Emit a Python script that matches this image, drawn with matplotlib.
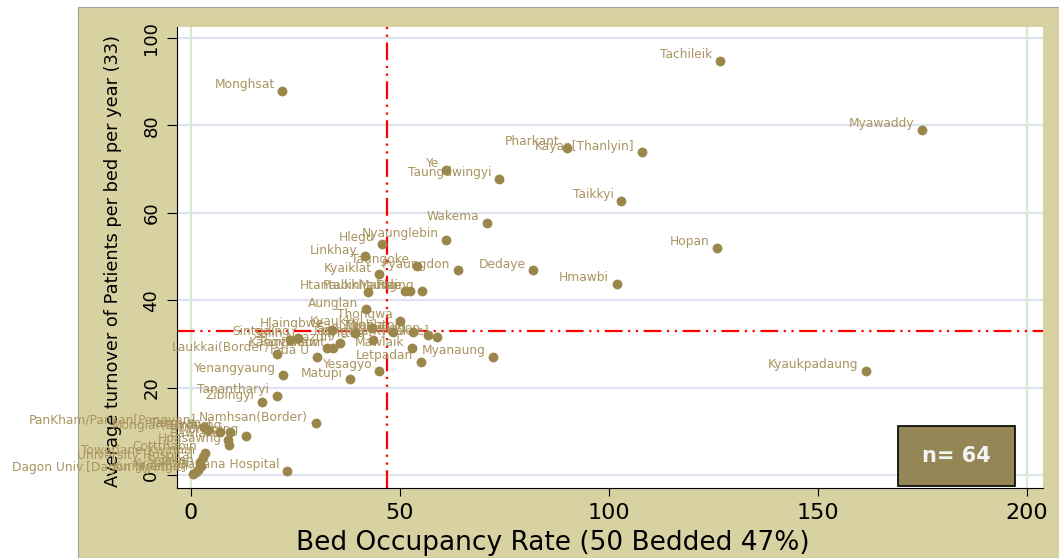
import matplotlib.pyplot as plt
from matplotlib.patches import Rectangle

plt.rcParams['font.family'] = 'DejaVu Sans'

# hospital names, bed occupancy rate (%), turnover of patients per bed per year
names = [
    "Tachileik", "Myawaddy", "Monghsat", "Pharkant", "Kayan[Thanlyin]", "Ye",
    "Taungdwingyi", "Taikkyi", "Wakema", "Nyaunglebin", "Hopan", "Dedaye",
    "Hmawbi", "Pyaungdon", "Taungoke", "Hlegu", "Linkhay", "Kyaiklat",
    "Htantabin", "Paukkhaung", "Pale", "Mahlaing", "Aunglan", "Thongwa",
    "Kyaukpadaung", "Letpadan", "Myanaung", "Mawlaik", "Yesagyo", "Matupi",
    "Yenangyaung", "Tanantharyi", "Zibingyi", "Laukkai(Border)", "Tada U",
    "Namhsan(Border)", "Dagana Hospital",
    "Sintgaing", "Hlaingbwe", "Kyaukkyi", "Pantanaw", "Kangyidaunt", "Ngazun",
    "Sagu", "Myittha", "Thanatpin", "Kyaunggon", "Taungtha[Kyaukse]", "Salin",
    "Minhla",
    "Dagon Univ.[Dagon Myothit]", "University Hospital", "Towerlane-Kwinhin",
    "Cottthabin", "PanKham/Pansan[Pangyan]", "Tangyan", "Monglar(Border)",
    "Pinlaung", "Bawlake", "Hpasawng", "Mongping", "Seikkan", "Kyauktan",
    "Kungyangon",
]
occupancy = [
    126.6, 174.9, 21.8, 89.9, 107.8, 60.9,
    73.7, 102.9, 70.8, 61.0, 125.9, 81.9,
    101.8, 63.8, 54.0, 45.8, 41.6, 45.0,
    42.3, 51.2, 52.4, 55.2, 41.9, 50.0,
    161.5, 54.9, 72.2, 52.8, 45.0, 38.0,
    21.9, 20.5, 16.9, 20.5, 30.1,
    29.8, 22.9,
    25.6, 33.7, 43.2, 32.5, 34.0, 35.6,
    39.2, 43.6, 53.2, 56.8, 58.8, 23.7,
    48.3,
    0.5, 2.2, 2.9,
    3.3, 3.1, 4.1, 6.9,
    9.3, 8.9, 9.2, 13.2, 2.5, 1.6,
    1.2,
]
turnover = [
    94.7, 79.0, 87.9, 74.8, 73.8, 69.8,
    67.7, 62.8, 57.7, 53.8, 51.9, 46.8,
    43.7, 46.8, 47.8, 52.9, 50.0, 45.9,
    41.9, 42.0, 42.0, 42.0, 37.9, 35.3,
    23.8, 25.9, 27.0, 29.0, 23.9, 21.9,
    22.9, 18.1, 16.8, 27.8, 27.1,
    11.8, 1.0,
    31.4, 33.2, 33.6, 29.0, 29.0, 30.1,
    32.4, 30.9, 32.8, 32.0, 31.5, 30.9,
    32.8,
    0.2, 3.0, 4.2,
    5.0, 11.0, 10.3, 9.9,
    9.9, 8.0, 6.9, 8.9, 2.0, 1.2,
    0.6,
]

x_ticks = [0, 50, 100, 150, 200]
y_ticks = [0, 20, 40, 60, 80, 100]
occ_ref = 47
turn_ref = 33
n_text = "n= 64"

tan = '#d8d2a2'
dot_col = '#9b874b'
lab_col = '#a8945e'

fig = plt.figure(figsize=(10.59, 5.58), dpi=100)
fig.patch.set_facecolor('white')
fig.add_artist(Rectangle((78/1059, 0), 1, 1 - 7/558, transform=fig.transFigure,
                         facecolor=tan, edgecolor='#a0a0a0', lw=0.8, zorder=0))

ax = fig.add_axes([177/1059, 70/558, 866/1059, 461/558])
ax.set_facecolor('white')
ax.set_xlim(-3.35, 203.8)
ax.set_ylim(-2.97, 102.5)

for yt in y_ticks:
    ax.axhline(yt, color='#dde2ef', lw=1.6, zorder=1)
ax.axvline(0, color='#d6e8d6', lw=1.6, zorder=1)
ax.axvline(200, color='#d6e8d6', lw=1.6, zorder=1)

ax.axvline(occ_ref, color='red', lw=1.6, dashes=(8, 2.5, 1, 2.5, 1, 2.5), zorder=2)
ax.axhline(turn_ref, color='red', lw=1.6, dashes=(8, 2.5, 1, 2.5, 1, 2.5), zorder=2)

ax.scatter(occupancy, turnover, s=50, color=dot_col, zorder=4, linewidths=0)
for nm, xv, yv in zip(names, occupancy, turnover):
    ax.annotate(nm, (xv, yv), xytext=(-5.5, 4.5), textcoords='offset points',
                ha='right', va='center', fontsize=8.8, color=lab_col,
                zorder=3, annotation_clip=False)

ax.add_patch(Rectangle((169.1, -2.5), 28, 13.7, facecolor='#948755',
                       edgecolor='black', lw=1.2, zorder=6))
ax.text(183.1, 4.35, n_text, color='#f4f4f4', fontsize=15, fontweight='bold',
        ha='center', va='center', zorder=7)

ax.spines['top'].set_visible(False)
ax.spines['right'].set_visible(False)
ax.set_xticks(x_ticks)
ax.set_yticks(y_ticks)
ax.tick_params(axis='x', length=6, pad=5, labelsize=16, direction='out')
ax.tick_params(axis='y', length=7, pad=5, labelsize=13, direction='out')
for t in ax.get_yticklabels():
    t.set_rotation(90)
    t.set_va('center')

ax.set_xlabel("Bed Occupancy Rate (50 Bedded 47%)", fontsize=19)
ax.xaxis.set_label_coords(0.434, -0.091)
ax.set_ylabel("Average turnover of Patients per bed per year (33)", fontsize=12.8)
ax.yaxis.set_label_coords(-0.0635, 0.492)

fig.savefig("out.png", dpi=100)
